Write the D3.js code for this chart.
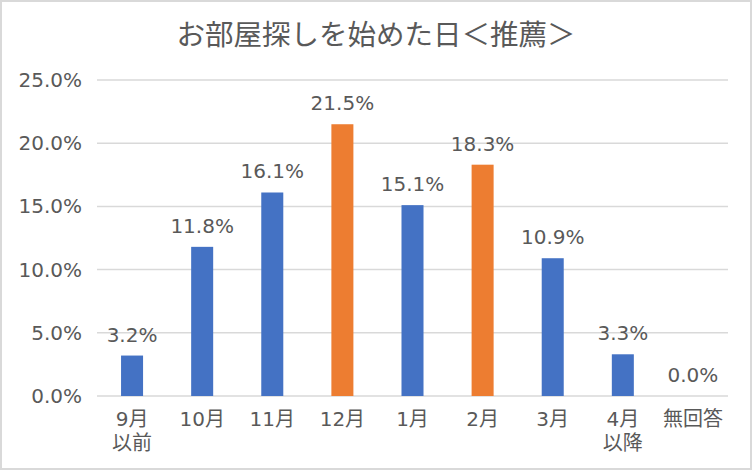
<!DOCTYPE html>
<html>
<head>
<meta charset="utf-8">
<script src="https://cdn.jsdelivr.net/npm/d3@7/dist/d3.min.js"></script>
<style>
  html, body { margin: 0; padding: 0; background: #fff; }
  svg { display: block; }
</style>
</head>
<body>
<svg id="chart" width="752" height="470"></svg>
<script>
const title = "お部屋探しを始めた日＜推薦＞";
const categories = ["9月\n以前", "10月", "11月", "12月", "1月", "2月", "3月", "4月\n以降", "無回答"];
const values = [3.2, 11.8, 16.1, 21.5, 15.1, 18.3, 10.9, 3.3, 0.0];
const highlighted = ["12月", "2月"];
const yTicks = [0, 5, 10, 15, 20, 25];

const W = 752, H = 470;
const margin = { left: 97, right: 24, top: 80, bottom: 74 };
const blue = "#4472C4", orange = "#ED7D31", textColor = "#595959", gridColor = "#d9d9d9";
const font = "'DejaVu Sans', 'Noto Sans CJK JP', sans-serif";

const svg = d3.select("#chart");

svg.append("rect")
  .attr("x", 1).attr("y", 1)
  .attr("width", W - 2).attr("height", H - 2)
  .attr("fill", "#fff")
  .attr("stroke", gridColor)
  .attr("stroke-width", 2);

const x = d3.scaleBand()
  .domain(categories)
  .range([margin.left, W - margin.right])
  .paddingInner(0.686)
  .paddingOuter(0.343);

const y = d3.scaleLinear()
  .domain([0, 25])
  .range([H - margin.bottom, margin.top]);

// gridlines
svg.append("g")
  .selectAll("line")
  .data(yTicks)
  .join("line")
  .attr("x1", margin.left)
  .attr("x2", W - margin.right)
  .attr("y1", d => y(d))
  .attr("y2", d => y(d))
  .attr("stroke", gridColor)
  .attr("stroke-width", 1.5);

// y axis labels
const yAxis = d3.axisLeft(y)
  .tickValues(yTicks)
  .tickSize(0)
  .tickPadding(15)
  .tickFormat(d => d.toFixed(1) + "%");
const yg = svg.append("g")
  .attr("transform", `translate(${margin.left},0)`)
  .call(yAxis);
yg.select(".domain").remove();
yg.selectAll("text")
  .attr("fill", textColor)
  .style("font-family", font)
  .style("font-size", "20px");

// bars
svg.append("g")
  .selectAll("rect")
  .data(categories)
  .join("rect")
  .attr("x", d => x(d))
  .attr("width", x.bandwidth())
  .attr("y", (d, i) => y(values[i]))
  .attr("height", (d, i) => y(0) - y(values[i]))
  .attr("fill", d => highlighted.includes(d) ? orange : blue);

// data labels
svg.append("g")
  .selectAll("text")
  .data(categories)
  .join("text")
  .attr("x", d => x(d) + x.bandwidth() / 2)
  .attr("y", (d, i) => y(values[i]) - 14)
  .attr("text-anchor", "middle")
  .attr("fill", textColor)
  .style("font-family", font)
  .style("font-size", "20px")
  .text((d, i) => values[i].toFixed(1) + "%");

// x axis labels
const xAxis = d3.axisBottom(x).tickSize(0).tickFormat("");
const xg = svg.append("g")
  .attr("transform", `translate(0,${y(0)})`)
  .call(xAxis);
xg.select(".domain").remove();
xg.selectAll(".tick").each(function(d) {
  const lines = d.split("\n");
  const t = d3.select(this).append("text")
    .attr("text-anchor", "middle")
    .attr("fill", textColor)
    .style("font-family", font)
    .style("font-size", "20px");
  lines.forEach((ln, i) => {
    t.append("tspan")
      .attr("x", 0)
      .attr("y", 30 + i * 24)
      .text(ln);
  });
});

// title
svg.append("text")
  .attr("x", W / 2)
  .attr("y", 45)
  .attr("text-anchor", "middle")
  .attr("fill", textColor)
  .style("font-family", "'Noto Sans CJK JP', sans-serif")
  .style("font-size", "28.5px")
  .text(title);
</script>
</body>
</html>
